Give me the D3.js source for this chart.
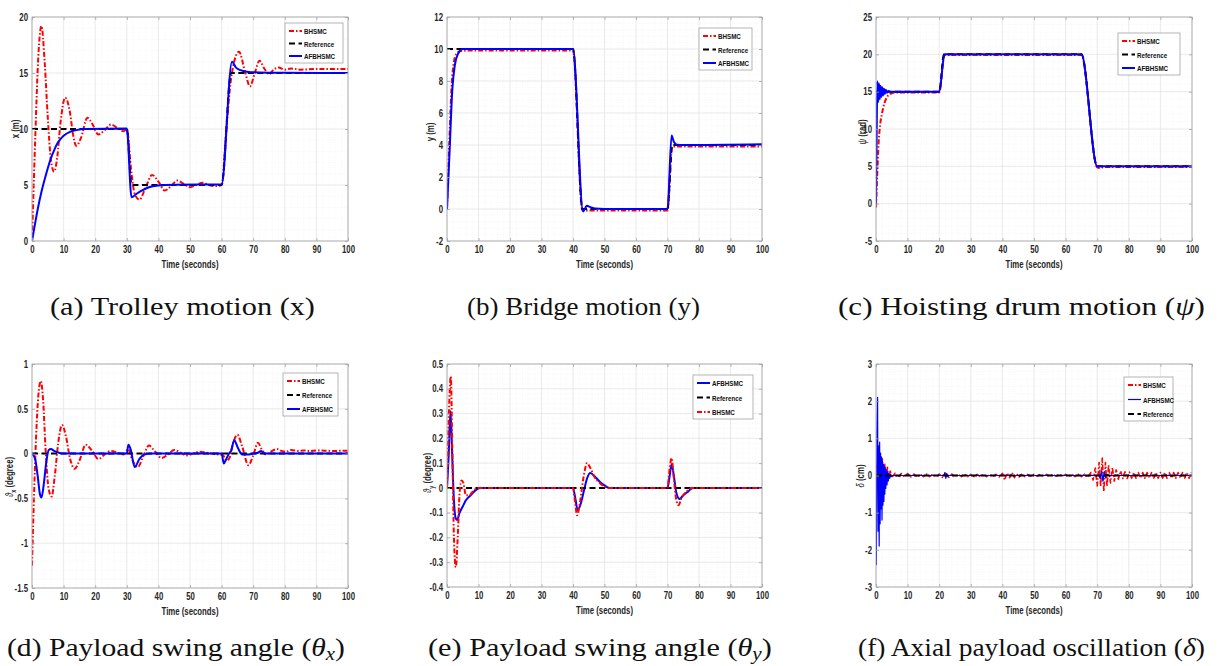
<!DOCTYPE html>
<html><head><meta charset="utf-8">
<script src="https://cdn.jsdelivr.net/npm/d3@7"></script>
<style>body{margin:0;background:#fff;}svg{display:block;}</style>
</head><body>
<script>
// ---------------- DATA ----------------
const timeTicks = [0,10,20,30,40,50,60,70,80,90,100];
const trolleyTicks = [0,5,10,15,20];
const bridgeTicks = [-2,0,2,4,6,8,10,12];
const hoistTicks = [-5,0,5,10,15,20,25];
const swingXTicks = [-1.5,-1,-0.5,0,0.5,1];
const swingYTicks = [-0.4,-0.3,-0.2,-0.1,0,0.1,0.2,0.3,0.4,0.5];
const axialTicks = [-3,-2,-1,0,1,2,3];

// (a) trolley x (m)
const trolleyRef = [[0,10],[30,10],[31.5,5],[60,5],[63,15],[100,15]];
const trolleyBHSMC = [[0,0],[1,9],[2,16.5],[3,19.2],[4,16],[5,11],[6,7.2],[7,6.2],[8,7.5],[9,10.5],[10.5,12.8],[12,11.5],[13,9.5],[14,8.5],[15.5,9.2],[17.5,11],[19,10.5],[21,9.5],[23,9.9],[25,10.4],[27,10.1],[29,9.8],[30,10],[31.5,6],[32.5,4.2],[34,3.7],[36,4.8],[38,5.9],[40,5.3],[42,4.5],[44,4.9],[46,5.4],[48,5.1],[50,4.8],[52,5],[54,5.2],[56,5],[58,4.9],[60,5],[61.5,10],[63,14.5],[65.5,16.9],[67.5,15],[69,13.8],[70.5,15],[72,16.1],[73.5,15.4],[75,14.9],[76.5,15.3],[78,15.5],[80,15.3],[82,15.4],[85,15.3],[90,15.35],[100,15.35]];
const trolleyAFBHSMC = [[0,0],[1,1.6],[2,3.1],[3,4.4],[4,5.5],[5,6.5],[6,7.4],[7,8.1],[8,8.7],[9,9.1],[10,9.4],[12,9.75],[14,9.9],[17,10],[30,10.05],[31.5,3.9],[33,4.2],[35,4.55],[37,4.8],[40,4.95],[45,5.02],[60,5.05],[63.3,16],[64.5,15.5],[66,15.25],[68,15.12],[72,15.05],[80,15.02],[100,15]];

// (b) bridge y (m)
const bridgeRef = [[0,10],[40,10],[43,0],[70,0],[71.5,4],[100,4]];
const bridgeBHSMC = [[0,0],[0.7,4],[1.5,7.8],[2.2,9.2],[3,9.7],[4,9.85],[6,9.9],[40,9.9],[43,-0.1],[70,-0.1],[71.5,3.9],[100,3.9]];
const bridgeAFBHSMC = [[0,0],[0.8,3.5],[1.7,7.5],[2.5,9],[3.5,9.7],[5,10],[40,10],[43.2,-0.15],[44.4,0.2],[45.5,0.12],[47,0.03],[50,0],[70,0],[71.3,4.6],[72,4.2],[73,4.02],[75,4.0],[100,4.05]];

// (c) hoisting drum psi (rad)
const hoistRef = [[0,15],[20,15],[21.5,20],[65,20],[70,5],[100,5]];
const hoistBHSMC = [[0,-0.5],[0.4,4],[0.8,8],[1.3,10.5],[2,12.3],[2.7,13.5],[3.5,14.3],[4.5,14.7],[6,14.9],[20,14.9],[21.7,19.9],[65,19.9],[70,4.85],[71,4.75],[72,4.9],[100,4.9]];
const hoistAFBHSMC = [[0,0],[0.2,9],[0.45,16.4],[0.7,13.6],[0.95,16.1],[1.2,14],[1.45,15.8],[1.7,14.3],[1.95,15.6],[2.2,14.5],[2.5,15.4],[2.8,14.7],[3.1,15.25],[3.5,14.85],[4,15.1],[4.6,14.95],[5.5,15],[20,15],[21.7,20],[65,20],[70,5],[100,5]];

// (d) swing angle theta_x (degree)
const swingXRef = [[0,0],[100,0]];
const swingXBHSMC = [[0,-1.25],[0.7,-0.4],[1.5,0.35],[2.2,0.72],[2.8,0.81],[3.5,0.6],[4.3,0.05],[5.2,-0.38],[6.2,-0.48],[7.2,-0.25],[8.3,0.12],[9.5,0.32],[10.7,0.2],[12,-0.05],[13.5,-0.17],[15,-0.08],[17,0.1],[19,0.03],[21,-0.06],[23,-0.01],[25,0.03],[27,0.01],[29,-0.01],[30.5,0.05],[31.5,-0.05],[33.5,-0.15],[35.2,-0.03],[37,0.09],[39,0.02],[41,-0.05],[43,-0.01],[45,0.04],[47,0.01],[49,-0.02],[51,0],[53,0.02],[55,0.01],[57,0],[59,-0.01],[60.5,-0.02],[61.5,-0.08],[62.5,-0.05],[63.5,0.1],[65,0.21],[66.5,0.08],[68.5,-0.13],[70,-0.02],[71.5,0.12],[72.8,0.04],[74,-0.01],[75.5,0.02],[77.5,0.05],[79,0.03],[80.5,0.02],[82,0.04],[84,0.03],[86,0.035],[88,0.03],[90,0.035],[95,0.03],[100,0.033]];
const swingXAFBHSMC = [[0,0],[1,-0.06],[1.8,-0.25],[2.5,-0.45],[3,-0.49],[3.7,-0.35],[4.5,-0.1],[5.3,0.04],[6,0.05],[7,0.03],[8.5,0.01],[10,0],[30,0],[30.5,0.1],[31.2,0.05],[32.5,-0.15],[34,-0.06],[35.5,-0.01],[38,0],[60,0],[60.7,-0.11],[61.5,-0.06],[62.5,0.01],[63,0.03],[64,0.15],[65.2,0.06],[66.5,-0.01],[68,-0.01],[70,0],[71.5,0.01],[72.5,0.03],[73.5,0],[100,0]];

// (e) swing angle theta_y (degree)
const swingYRef = [[0,0],[100,0]];
const swingYAFBHSMC = [[0,0],[0.5,0.12],[1.1,0.31],[1.6,0.15],[2.2,-0.05],[2.7,-0.12],[3.2,-0.13],[4,-0.1],[5,-0.075],[6,-0.05],[7.5,-0.03],[9,-0.01],[10.5,0],[40,0],[40.7,-0.04],[41.5,-0.09],[42.3,-0.07],[43.5,-0.01],[44.5,0.04],[45.5,0.06],[47,0.045],[48.5,0.025],[50,0.01],[51.5,0],[70,0],[70.7,0.05],[71.3,0.095],[72,0.05],[72.8,-0.02],[73.8,-0.045],[75,-0.03],[76.5,-0.015],[78,0],[100,0]];
const swingYBHSMC = [[0,0],[0.6,0.3],[1.2,0.45],[1.7,0.15],[2.2,-0.2],[2.8,-0.32],[3.4,-0.2],[4,-0.02],[4.6,0.03],[5.2,0.02],[6,-0.03],[7,-0.03],[8.5,-0.01],[10,0],[40,0],[40.6,-0.05],[41.3,-0.11],[42.2,-0.06],[43.3,0.04],[44.5,0.1],[45.5,0.08],[47,0.04],[48.5,0.02],[50,0.005],[52,0],[70,0],[70.6,0.07],[71.3,0.12],[72,0.04],[72.8,-0.05],[73.5,-0.07],[74.5,-0.04],[76,-0.015],[78,0],[100,0]];

// (f) axial oscillation delta (cm)
const axialRef = [[0,0],[100,0]];
const axialBHSMC = [[0,-0.1],[0.35,0.3],[0.7,0.65],[1.0,-0.25],[1.3,0.55],[1.65,-0.3],[2.0,0.45],[2.4,-0.2],[2.8,0.3],[3.2,-0.15],[3.6,0.22],[4.0,-0.1],[4.5,0.12],[5,-0.06],[6,0.06],[7,-0.05],[8,0.05],[9,-0.04],[10,0.05],[11,-0.04],[12,0.04],[13,-0.04],[14,0.04],[15,-0.03],[16,0.04],[17,-0.03],[18,0.04],[19,-0.03],[20,0.04],[21,-0.05],[22,0.06],[23,-0.05],[24,0.04],[25,-0.03],[26,0.03],[27,-0.03],[28,0.03],[29,-0.03],[30,0.03],[31,-0.03],[32,0.03],[33,-0.03],[34,0.03],[35,-0.03],[36,0.03],[37,-0.03],[38,0.03],[39,-0.04],[40,0.06],[40.7,-0.12],[41.5,0.07],[42.3,-0.06],[43,0.08],[43.8,-0.06],[44.5,0.05],[45.3,-0.04],[46,0.03],[47,-0.03],[48,0.03],[49,-0.02],[50,0.03],[51,-0.02],[52,0.03],[53,-0.02],[54,0.03],[55,-0.02],[56,0.03],[57,-0.02],[58,0.03],[59,-0.02],[60,0.03],[61,-0.02],[62,0.03],[63,-0.03],[64,0.03],[65,-0.03],[66,0.04],[67,-0.05],[68,0.08],[68.7,-0.12],[69.4,0.2],[70,-0.28],[70.6,0.35],[71.1,-0.3],[71.6,0.47],[72.1,-0.43],[72.6,0.35],[73.1,-0.3],[73.6,0.28],[74.2,-0.2],[74.8,0.22],[75.4,-0.15],[76,0.15],[76.7,-0.1],[77.4,0.12],[78.1,-0.08],[78.8,0.1],[79.5,-0.08],[80.2,0.09],[80.9,-0.07],[81.6,0.08],[82.3,-0.07],[83,0.08],[83.7,-0.07],[84.4,0.08],[85.1,-0.07],[85.8,0.08],[86.5,-0.07],[87.2,0.08],[87.9,-0.07],[88.6,0.08],[89.3,-0.07],[90,0.08],[90.7,-0.07],[91.4,0.08],[92.1,-0.07],[92.8,0.08],[93.5,-0.07],[94.2,0.08],[94.9,-0.07],[95.6,0.08],[96.3,-0.07],[97,0.08],[97.7,-0.07],[98.4,0.08],[99.1,-0.07],[99.8,0.08]];
const axialAFBHSMC = [[0,0],[0.1,-2.4],[0.3,1.2],[0.5,2.1],[0.65,-1.5],[0.8,0.8],[1.0,-1.9],[1.15,0.9],[1.3,-1.3],[1.45,0.6],[1.6,-0.9],[1.75,0.5],[1.9,-1.2],[2.05,0.4],[2.2,-0.8],[2.35,0.3],[2.5,-0.7],[2.65,0.25],[2.8,-0.5],[2.95,0.2],[3.1,-0.35],[3.3,0.15],[3.5,-0.25],[3.7,0.1],[3.9,-0.15],[4.1,0.06],[4.35,-0.08],[4.6,0.03],[4.9,-0.03],[5.3,0],[21.5,0],[21.8,0.08],[22.1,-0.08],[22.4,0.05],[22.7,-0.03],[23,0],[70.5,0],[71,-0.08],[71.4,0.12],[71.8,-0.15],[72.2,0.1],[72.6,-0.06],[73,0.03],[73.5,0],[100,0]];

// ---------------- STYLES / LAYOUT ----------------
const W = 1218, H = 666;
const SANS = "'Liberation Sans', Arial, sans-serif";
const SERIF = "'Liberation Serif', 'Times New Roman', serif";
const CX = 0.78; // horizontal condensation of the small figure text
const styles = {
  BHSMC: {color:"#ff0000", dash:"5,2,1.5,2", width:2},
  Reference: {color:"#000000", dash:"6,3.5", width:2},
  AFBHSMC: {color:"#0000ff", dash:null, width:2}
};

const panels = [
 {x0:32,x1:348,y0:17,y1:241, yDomain:[0,20], yTicks:trolleyTicks, curve:d3.curveMonotoneX,
  series:[["BHSMC",trolleyBHSMC],["Reference",trolleyRef],["AFBHSMC",trolleyAFBHSMC]],
  legend:{x:285,y:23,w:58,h:40},
  ylabel:{x:19,y:129,parts:[{t:"x (m)"}]},
  caption:{x0:50,x1:315,y:315,parts:[{t:"(a) Trolley motion (x)"}]}},
 {x0:447,x1:762,y0:17,y1:241, yDomain:[-2,12], yTicks:bridgeTicks, curve:d3.curveMonotoneX,
  series:[["BHSMC",bridgeBHSMC],["Reference",bridgeRef],["AFBHSMC",bridgeAFBHSMC]],
  legend:{x:699,y:28,w:53,h:42},
  ylabel:{x:434,y:132,parts:[{t:"y (m)"}]},
  caption:{x0:467,x1:700,y:315,parts:[{t:"(b) Bridge motion (y)"}]}},
 {x0:876,x1:1192,y0:17,y1:241, yDomain:[-5,25], yTicks:hoistTicks, curve:d3.curveMonotoneX,
  series:[["BHSMC",hoistBHSMC],["Reference",hoistRef],["AFBHSMC",hoistAFBHSMC]],
  legend:{x:1118,y:33,w:62,h:42},
  ylabel:{x:866,y:132,parts:[{t:"ψ",i:true,w:"normal"},{t:" (rad)"}]},
  caption:{x0:838,x1:1205,y:315,parts:[{t:"(c) Hoisting drum motion ("},{t:"ψ",i:true},{t:")"}]}},
 {x0:32,x1:348,y0:364,y1:588, yDomain:[-1.5,1], yTicks:swingXTicks, curve:d3.curveMonotoneX,
  series:[["BHSMC",swingXBHSMC],["Reference",swingXRef],["AFBHSMC",swingXAFBHSMC]],
  legend:{x:283,y:373,w:55,h:43},
  ylabel:{x:13,y:477,parts:[{t:"ϑ",i:true,w:"normal"},{t:"x",sub:true},{t:" (degree)"}]},
  caption:{x0:7,x1:345,y:656,parts:[{t:"(d) Payload swing angle ("},{t:"θ",i:true},{t:"x",i:true,sub:true},{t:")"}]}},
 {x0:447,x1:762,y0:364,y1:587, yDomain:[-0.4,0.5], yTicks:swingYTicks, curve:d3.curveMonotoneX,
  series:[["AFBHSMC",swingYAFBHSMC],["Reference",swingYRef],["BHSMC",swingYBHSMC]],
  legend:{x:693,y:375,w:60,h:44},
  ylabel:{x:431,y:473,parts:[{t:"ϑ",i:true,w:"normal"},{t:"y",sub:true},{t:" (degree)"}]},
  caption:{x0:428,x1:772,y:656,parts:[{t:"(e) Payload swing angle ("},{t:"θ",i:true},{t:"y",i:true,sub:true},{t:")"}]}},
 {x0:876,x1:1192,y0:364,y1:587, yDomain:[-3,3], yTicks:axialTicks, curve:d3.curveLinear, thin:true,
  series:[["BHSMC",axialBHSMC],["AFBHSMC",axialAFBHSMC],["Reference",axialRef]],
  legend:{x:1124,y:377,w:49,h:44},
  ylabel:{x:864,y:476,parts:[{t:"δ",i:true,w:"normal"},{t:" (cm)"}]},
  caption:{x0:858,x1:1205,y:656,parts:[{t:"(f) Axial payload oscillation ("},{t:"δ",i:true},{t:")"}]}}
];

// ---------------- DRAW ----------------
const svg = d3.select("body").append("svg").attr("width",W).attr("height",H);
const defs = svg.append("defs");

function richText(sel, parts, fs, subShift){
  let prevSub = false;
  const sh = fs*(subShift||0.28);
  parts.forEach(p=>{
    const ts = sel.append("tspan").text(p.t);
    if(p.i) ts.attr("font-style","italic");
    if(p.w) ts.attr("font-weight",p.w);
    if(p.sub){ ts.attr("font-size",fs*0.7).attr("dy",sh); prevSub = true; }
    else if(prevSub){ ts.attr("dy",-sh); prevSub = false; }
  });
}

panels.forEach((P,pi)=>{
  const x = d3.scaleLinear().domain([0,100]).range([P.x0,P.x1]);
  const y = d3.scaleLinear().domain(P.yDomain).range([P.y1,P.y0]);
  const g = svg.append("g");

  // grid (minor + major)
  const xMinor = d3.range(0,101,2), yStep = (P.yTicks[1]-P.yTicks[0])/5;
  const yMinor = d3.range(0, Math.round((P.yDomain[1]-P.yDomain[0])/yStep)+1).map(i=>P.yDomain[0]+i*yStep);
  const grid = g.append("g");
  grid.selectAll(".vm").data(xMinor).join("line")
    .attr("x1",d=>x(d)).attr("x2",d=>x(d)).attr("y1",P.y0).attr("y2",P.y1)
    .attr("stroke","#f1f1f1").attr("stroke-width",0.6).attr("stroke-dasharray","1,1.5");
  grid.selectAll(".hm").data(yMinor).join("line")
    .attr("y1",d=>y(d)).attr("y2",d=>y(d)).attr("x1",P.x0).attr("x2",P.x1)
    .attr("stroke","#f1f1f1").attr("stroke-width",0.6).attr("stroke-dasharray","1,1.5");
  grid.selectAll(".vM").data(timeTicks).join("line")
    .attr("x1",d=>x(d)).attr("x2",d=>x(d)).attr("y1",P.y0).attr("y2",P.y1)
    .attr("stroke","#e2e2e2").attr("stroke-width",0.7);
  grid.selectAll(".hM").data(P.yTicks).join("line")
    .attr("y1",d=>y(d)).attr("y2",d=>y(d)).attr("x1",P.x0).attr("x2",P.x1)
    .attr("stroke","#e2e2e2").attr("stroke-width",0.7);

  // series
  defs.append("clipPath").attr("id","clip"+pi).append("rect")
    .attr("x",P.x0).attr("y",P.y0).attr("width",P.x1-P.x0).attr("height",P.y1-P.y0);
  const line = d3.line().x(d=>x(d[0])).y(d=>y(d[1])).curve(P.curve);
  const lg = g.append("g").attr("clip-path","url(#clip"+pi+")");
  P.series.forEach(([name,data])=>{
    const s = styles[name];
    let w = s.width;
    if(P.thin && name==="AFBHSMC") w = 1.2;
    if(P.thin && name==="BHSMC") w = 1.6;
    lg.append("path").datum(data).attr("d",line).attr("fill","none")
      .attr("stroke",s.color).attr("stroke-width",w)
      .attr("stroke-dasharray",s.dash).attr("stroke-linejoin","round");
  });

  // frame
  g.append("rect").attr("x",P.x0).attr("y",P.y0).attr("width",P.x1-P.x0).attr("height",P.y1-P.y0)
    .attr("fill","none").attr("stroke","#a3a3a3").attr("stroke-width",0.8);

  // axes
  const styleAxis = (ax)=>{
    ax.select(".domain").remove();
    ax.selectAll(".tick line").attr("stroke","#a3a3a3").attr("stroke-width",0.8);
    ax.selectAll("text").attr("font-family",SANS).attr("font-size",10).attr("font-weight","bold").attr("fill","#262626");
  };
  const xb = g.append("g").attr("transform",`translate(0,${P.y1})`)
    .call(d3.axisBottom(x).tickValues(timeTicks).tickFormat(d=>String(d)).tickSizeInner(-3).tickSizeOuter(0).tickPadding(5));
  styleAxis(xb);
  xb.selectAll("text").attr("transform",`scale(${CX},1)`);
  const xt = g.append("g").attr("transform",`translate(0,${P.y0})`)
    .call(d3.axisTop(x).tickValues(timeTicks).tickFormat("").tickSizeInner(-3).tickSizeOuter(0));
  styleAxis(xt);
  const yl = g.append("g").attr("transform",`translate(${P.x0},0)`)
    .call(d3.axisLeft(y).tickValues(P.yTicks).tickFormat(d=>String(d)).tickSizeInner(-3).tickSizeOuter(0));
  styleAxis(yl);
  yl.selectAll("text").attr("x",0).attr("transform",`translate(-4,0) scale(${CX},1)`);
  const yr = g.append("g").attr("transform",`translate(${P.x1},0)`)
    .call(d3.axisRight(y).tickValues(P.yTicks).tickFormat("").tickSizeInner(-3).tickSizeOuter(0));
  styleAxis(yr);

  // x label
  g.append("text").attr("transform",`translate(${(P.x0+P.x1)/2},${P.y1+27}) scale(${CX},1)`)
    .attr("text-anchor","middle").attr("font-family",SANS).attr("font-size",10)
    .attr("font-weight","bold").attr("fill","#262626").text("Time (seconds)");

  // y label
  const ylab = g.append("text").attr("transform",`translate(${P.ylabel.x},${P.ylabel.y}) rotate(-90) scale(${CX},1)`)
    .attr("text-anchor","middle").attr("font-family",SANS).attr("font-size",10)
    .attr("font-weight","bold").attr("fill","#262626");
  richText(ylab, P.ylabel.parts, 10, 0.28);

  // legend
  const L = P.legend;
  const leg = g.append("g");
  leg.append("rect").attr("x",L.x).attr("y",L.y).attr("width",L.w).attr("height",L.h)
    .attr("fill","#fff").attr("stroke","#a3a3a3").attr("stroke-width",0.8);
  P.series.forEach(([name],i)=>{
    const s = styles[name];
    const ry = L.y + 8 + i*(L.h-15)/2;
    let w = s.width;
    if(P.thin && name==="AFBHSMC") w = 1.2;
    leg.append("line").attr("x1",L.x+4).attr("x2",L.x+17).attr("y1",ry).attr("y2",ry)
      .attr("stroke",s.color).attr("stroke-width",w).attr("stroke-dasharray",s.dash);
    leg.append("text").attr("transform",`translate(${L.x+19},${ry+3}) scale(${CX},1)`)
      .attr("font-family",SANS).attr("font-size",8).attr("font-weight","bold").attr("fill","#111").text(name);
  });

  // caption
  const cg = svg.append("g");
  const ct = cg.append("text").attr("x",0).attr("y",0).attr("font-family",SERIF)
    .attr("font-size",26).attr("fill","#111");
  richText(ct, P.caption.parts, 26, 0.14);
  const bw = ct.node().getBBox().width || 1;
  const sx = (P.caption.x1-P.caption.x0)/bw;
  cg.attr("transform",`translate(${P.caption.x0},${P.caption.y}) scale(${sx},1)`);
});
</script>
</body></html>
